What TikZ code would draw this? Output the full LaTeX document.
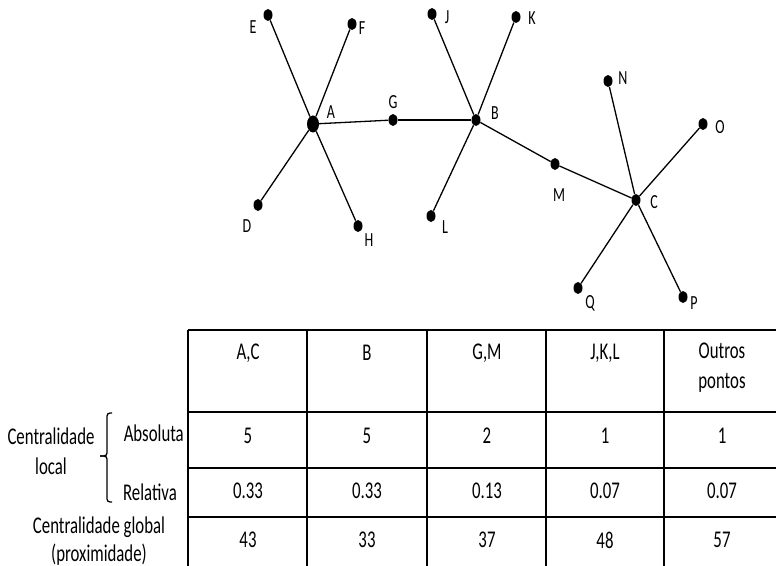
\documentclass[tikz,border=0pt]{standalone}
\usepackage{fontspec}
\setmainfont{Carlito}[FakeStretch=0.7]
\usetikzlibrary{shapes.geometric}
\usetikzlibrary{positioning}

\begin{document}
\begin{tikzpicture}[
  x=1bp,y=-1bp,
  pt/.style={ellipse,fill,inner sep=0pt,minimum width=9bp,minimum height=12bp},
  bigpt/.style={pt,minimum width=12bp,minimum height=17bp},
  lbl/.style={inner sep=0pt,font=\fontsize{20bp}{22bp}\selectfont},
  cell/.style={inner sep=0pt,align=center,font=\fontsize{24bp}{30bp}\selectfont},
  link/.style={line width=1.3bp},
  tabline/.style={line width=2bp}
]
\useasboundingbox (0,0) rectangle (776,566);

% points
\node[bigpt] (A) at (313,124) {};
\node[pt] (B) at (476,120) {};
\node[pt] (C) at (636,200) {};
\node[pt] (D) at (258,205) {};
\node[pt] (E) at (268,15) {};
\node[pt] (F) at (352,24) {};
\node[pt] (G) at (393,120) {};
\node[pt] (H) at (358,226) {};
\node[pt] (J) at (432,14) {};
\node[pt] (K) at (516,17) {};
\node[pt] (L) at (431,216) {};
\node[pt] (M) at (555,164) {};
\node[pt] (N) at (608,81) {};
\node[pt] (O) at (703,124) {};
\node[pt] (P) at (683,297) {};
\node[pt] (Q) at (578,288) {};

% names
\node[lbl] (lA) at (331,112) {A};
\node[lbl] (lB) at (495,113) {B};
\node[lbl] (lC) at (654,202) {C};
\node[lbl] (lD) at (247,226) {D};
\node[lbl] (lE) at (253,27) {E};
\node[lbl] (lF) at (362,28) {F};
\node[lbl] (lG) at (393,102) {G};
\node[lbl] (lH) at (369,240) {H};
\node[lbl] (lJ) at (447,17) {J};
\node[lbl] (lK) at (532,18) {K};
\node[lbl] (lL) at (445,227) {L};
\node[lbl] (lM) at (559,195) {M};
\node[lbl] (lN) at (623,78) {N};
\node[lbl] (lO) at (720,127) {O};
\node[lbl] (lP) at (694,303) {P};
\node[lbl] (lQ) at (590,303) {Q};

% edges
\draw[link] (A) -- (E);
\draw[link] (A) -- (F);
\draw[link] (A) -- (D);
\draw[link] (A) -- (H);
\draw[link] (A) -- (G);
\draw[link] (G) -- (B);
\draw[link] (B) -- (J);
\draw[link] (B) -- (K);
\draw[link] (B) -- (L);
\draw[link] (B) -- (M);
\draw[link] (M) -- (C);
\draw[link] (C) -- (N);
\draw[link] (C) -- (O);
\draw[link] (C) -- (P);
\draw[link] (C) -- (Q);

% table
\draw[tabline] (188,330) -- (776,330);
\draw[tabline] (188,412) -- (776,412);
\draw[tabline] (188,468) -- (776,468);
\draw[tabline] (188,517) -- (776,517);
\draw[tabline] (188,330) -- (188,566);
\draw[tabline] (307,330) -- (307,566);
\draw[tabline] (427,330) -- (427,566);
\draw[tabline] (546,330) -- (546,566);
\draw[tabline] (664,330) -- (664,566);

\node[cell] (h1) at (248,353) {A,C};
\node[cell] (h2) at (367,353) {B};
\node[cell] (h3) at (487,353) {G,M};
\node[cell] (h4) at (605,353) {J,K,L};
\node[cell] (h5) at (722,368) {Outros\\pontos};

\node[cell] (a1) at (248,436) {5};
\node[cell] (a2) at (367,436) {5};
\node[cell] (a3) at (487,436) {2};
\node[cell] (a4) at (605,436) {1};
\node[cell] (a5) at (722,436) {1};

\node[cell] (r1) at (248,491) {0.33};
\node[cell] (r2) at (367,491) {0.33};
\node[cell] (r3) at (487,491) {0.13};
\node[cell] (r4) at (605,491) {0.07};
\node[cell] (r5) at (722,491) {0.07};

\node[cell] (g1) at (248,540) {43};
\node[cell] (g2) at (367,540) {33};
\node[cell] (g3) at (487,540) {37};
\node[cell] (g4) at (605,540) {48};
\node[cell] (g5) at (722,540) {57};

% row titles
\node[cell,anchor=east] (abs) at (184,433) {Absoluta};
\node[cell] (rel) at (150,492) {Relativa};
\node[cell] (loc) at (51,451) {Centralidade\\local};
\node[cell,font=\fontsize{24bp}{28bp}\selectfont] (glob) at (99,541) {Centralidade global\\(proximidade)};
\draw[link,rounded corners=3bp] (112,413) -- (107,413) -- (107,456) -- (100,456);
\draw[link,rounded corners=3bp] (100,456) -- (107,456) -- (107,502) -- (112,502);
\end{tikzpicture}
\end{document}
